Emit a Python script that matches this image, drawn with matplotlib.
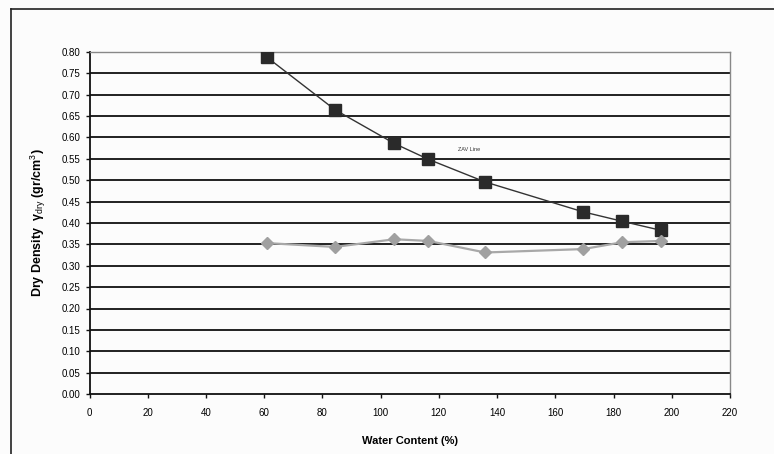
import numpy as np
import matplotlib.pyplot as plt
from matplotlib.lines import Line2D

plt.rcParams['font.family'] = ['Liberation Sans', 'DejaVu Sans']
plt.rcParams['mathtext.fontset'] = 'custom'
plt.rcParams['mathtext.rm'] = 'Liberation Sans'
plt.rcParams['mathtext.it'] = 'Liberation Sans:italic'
plt.rcParams['mathtext.bf'] = 'Liberation Sans:bold'

# data
water_content = [60.9, 84.3, 104.7, 116.4, 135.9, 169.6, 183.0, 196.2]
zav_density = [0.788, 0.665, 0.586, 0.549, 0.496, 0.426, 0.404, 0.383]
dry_density = [0.353, 0.344, 0.362, 0.358, 0.331, 0.339, 0.355, 0.358]

x_ticks = np.arange(0, 221, 20)
y_ticks = np.arange(0, 0.801, 0.05)

fig = plt.figure(figsize=(7.74, 4.54), dpi=100)
fig.patch.set_facecolor('#fcfcfc')

# outer frame of the chart area
fig.add_artist(Line2D([11/774, 11/774], [0, 1 - 9/454], color='#222222', lw=1.2))
fig.add_artist(Line2D([11/774, 1], [1 - 9/454, 1 - 9/454], color='#222222', lw=1.2))

ax = fig.add_axes([89.5/774, 1 - 394/454, (730 - 89.5)/774, (394 - 52)/454])
ax.set_facecolor('#fcfcfc')

for yv in y_ticks[1:]:
    ax.axhline(yv, color='#111111', lw=1.3, zorder=1)

ax.plot(water_content, zav_density, color='#333333', lw=1.0, marker='s',
        markersize=8, markerfacecolor='#2a2a2a', markeredgecolor='#2a2a2a', zorder=3)
ax.plot(water_content, dry_density, color='#a8a8a8', lw=1.6, marker='D',
        markersize=6, markerfacecolor='#a0a0a0', markeredgecolor='#a0a0a0', zorder=3)

ax.text(126.5, 0.573, 'ZAV Line', fontsize=4, color='#333333', va='center')

ax.set_xlim(0, 220)
ax.set_ylim(0, 0.80)
ax.set_xticks(x_ticks)
ax.set_yticks(y_ticks)
ax.set_yticklabels(['%.2f' % v for v in y_ticks])
ax.tick_params(axis='both', labelsize=7, direction='out', length=3, width=1, color='#111111')
ax.tick_params(axis='x', pad=7)

for s in ['top', 'right']:
    ax.spines[s].set_color('#888888')
    ax.spines[s].set_linewidth(1.0)
for s in ['left', 'bottom']:
    ax.spines[s].set_color('#111111')
    ax.spines[s].set_linewidth(1.3)

ax.set_xlabel('Water Content (%)', fontsize=8, fontweight='bold', labelpad=13)
ax.set_ylabel('Dry Density  γ$_{\\mathrm{dry}}$ (gr/cm$^3$)', fontsize=9,
              fontweight='bold', labelpad=10)

fig.savefig('out.png', dpi=100, facecolor=fig.get_facecolor())
